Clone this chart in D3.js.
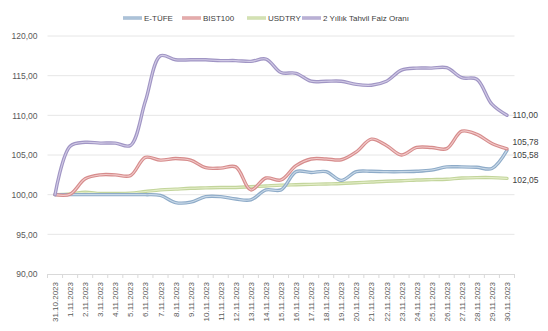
<!DOCTYPE html>
<html><head><meta charset="utf-8">
<script src="https://cdn.jsdelivr.net/npm/d3@7"></script>
<style>body{margin:0;background:#fff}svg{display:block;font-family:"Liberation Sans",Arial,sans-serif}</style>
</head><body><svg id="c" width="548" height="331"></svg>
<script>
const dates = ["31.10.2023","1.11.2023","2.11.2023","3.11.2023","4.11.2023","5.11.2023","6.11.2023","7.11.2023","8.11.2023","9.11.2023","10.11.2023","11.11.2023","12.11.2023","13.11.2023","14.11.2023","15.11.2023","16.11.2023","17.11.2023","18.11.2023","19.11.2023","20.11.2023","21.11.2023","22.11.2023","23.11.2023","24.11.2023","25.11.2023","26.11.2023","27.11.2023","28.11.2023","29.11.2023","30.11.2023"];
const etufe = [100,100,100,100,100,100,100,99.9,99.0,99.05,99.75,99.75,99.45,99.35,100.6,100.6,102.9,102.8,102.9,101.8,102.9,102.95,102.9,102.9,102.95,103.1,103.5,103.5,103.45,103.3,105.58];
const bist100 = [100,100.05,102.0,102.5,102.5,102.4,104.7,104.35,104.55,104.35,103.4,103.35,103.5,100.6,102.1,101.85,103.65,104.5,104.5,104.4,105.4,107.0,106.2,105.0,105.95,105.95,105.8,108.0,107.6,106.45,105.78];
const usdtry = [100,100.1,100.3,100.15,100.15,100.2,100.4,100.6,100.7,100.8,100.85,100.9,100.9,101.0,101.1,101.2,101.25,101.3,101.35,101.4,101.5,101.6,101.7,101.75,101.85,101.9,101.95,102.1,102.15,102.15,102.05];
const tahvil = [100,106.1,106.6,106.5,106.5,106.2,111.8,117.5,117.0,117.0,117.0,116.9,116.9,116.8,117.1,115.4,115.3,114.3,114.3,114.3,113.9,113.8,114.3,115.7,115.95,115.95,116.0,114.75,114.55,111.4,110.0];
const seriesNames = ["E-TÜFE","BIST100","USDTRY","2 Yıllık Tahvil Faiz Oranı"];
const endLabels = ["105,58","105,78","102,05","110,00"];
const yTicks = [90,95,100,105,110,115,120];

const edge = ["#8eabc8","#d68c8c","#c3d59c","#a095c4"];
const core = ["#c9d9e8","#f2caca","#e4eec9","#d2cbe6"];
const data = [etufe,bist100,usdtry,tahvil];

const svg = d3.select("#c");
const L=47.5, R=514.5, T=36, B=274;
const x = d3.scalePoint().domain(dates).range([L,R]).padding(0.5);
const y = d3.scaleLinear().domain([90,120]).range([B,T]);
const fmt = v => d3.format(".2f")(v).replace(".",",");

// gridlines
svg.append("g").selectAll("line").data(yTicks.filter(t=>t>90)).join("line")
  .attr("x1",L).attr("x2",R).attr("y1",d=>y(d)).attr("y2",d=>y(d))
  .attr("stroke","#e6e6e6").attr("stroke-width",1);

// y axis labels
const ya = svg.append("g").attr("transform",`translate(${L},0)`)
  .call(d3.axisLeft(y).tickValues(yTicks).tickFormat(fmt).tickSize(0).tickPadding(10));
ya.select(".domain").remove();
ya.selectAll("text").attr("font-size",8.5).attr("fill","#595959").attr("font-family","Liberation Sans, Arial, sans-serif");

// x axis
const xa = svg.append("g").attr("transform",`translate(0,${B})`)
  .call(d3.axisBottom(x).tickSize(0).tickPadding(0));
xa.select(".domain").attr("stroke","#d9d9d9");
xa.selectAll("text").attr("font-size",8).attr("fill","#595959").attr("font-family","Liberation Sans, Arial, sans-serif")
  .attr("text-anchor","end").attr("dy","0.32em")
  .attr("transform","translate(0,8) rotate(-90)");
const step = x.step();
svg.append("g").selectAll("line").data(d3.range(dates.length+1)).join("line")
  .attr("x1",i=>L+i*step).attr("x2",i=>L+i*step).attr("y1",B).attr("y2",B+4)
  .attr("stroke","#d9d9d9");

// lines
const line = d3.line().x((d,i)=>x(dates[i])).y(d=>y(d)).curve(d3.curveCatmullRom.alpha(0.5));
const order=[2,0,1,3];
order.forEach(k=>{
  svg.append("path").attr("d",line(data[k])).attr("fill","none").attr("stroke",edge[k]).attr("stroke-width",3.4).attr("stroke-linejoin","round").attr("stroke-linecap","round");
  svg.append("path").attr("d",line(data[k])).attr("fill","none").attr("stroke",core[k]).attr("stroke-width",1.1).attr("stroke-linejoin","round").attr("stroke-linecap","round");
});

// end labels
const labY=[155,142,180,115];
seriesNames.forEach((n,k)=>{
  svg.append("text").attr("x",R-2).attr("y",labY[k]).attr("dy","0.32em").attr("font-size",8.5).attr("fill","#404040").text(endLabels[k]);
});

// legend
const lx=[123,182,247,302];
seriesNames.forEach((n,k)=>{
  const g=svg.append("g").attr("transform",`translate(${lx[k]},18)`);
  g.append("line").attr("x1",0).attr("x2",19).attr("stroke",edge[k]).attr("stroke-width",3.2);
  g.append("line").attr("x1",0).attr("x2",19).attr("stroke",core[k]).attr("stroke-width",1);
  g.append("text").attr("x",21).attr("dy","0.32em").attr("font-size",8).attr("fill","#404040").text(n);
});
</script></body></html>
